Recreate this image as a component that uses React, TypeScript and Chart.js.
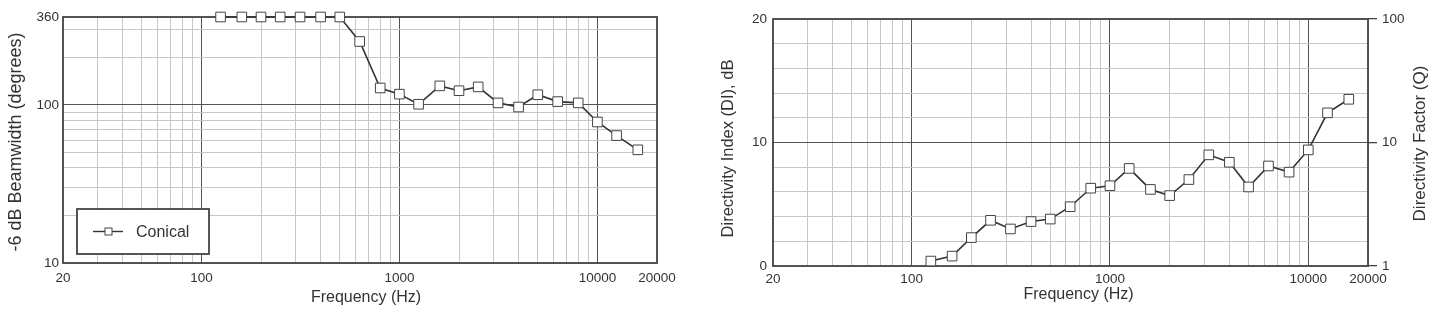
import React, { useEffect, useRef } from "react";
import { Chart, registerables } from "chart.js";

Chart.register(...registerables);

// ---- Data ----
const frequencies = [125, 160, 200, 250, 315, 400, 500, 630, 800, 1000, 1250, 1600, 2000, 2500, 3150, 4000, 5000, 6300, 8000, 10000, 12500, 16000];
const beamwidthConical = [360, 360, 360, 360, 360, 360, 360, 252, 128, 117, 101, 132, 123, 130, 103, 97, 116, 105, 103, 78, 64, 52];
const directivityIndex = [0.4, 0.8, 2.3, 3.7, 3.0, 3.6, 3.8, 4.8, 6.3, 6.5, 7.9, 6.2, 5.7, 7.0, 9.0, 8.4, 6.4, 8.1, 7.6, 9.4, 12.4, 13.5];

const freqTickLabels = [20, 100, 1000, 10000, 20000];
const freqMajor = [100, 1000, 10000];
const beamTickLabels = [10, 100, 360];
const beamMajor = [100];
const diTickLabels = [0, 10, 20];
const diMajor = [10];
const qTickLabels = [1, 10, 100];

const seriesLabel = "Conical";

// ---- Style ----
const FONT = "'Liberation Sans', Arial, Helvetica, sans-serif";
const TEXT = "#333";
const MINOR = "#c6c6c6";
const MAJOR = "#555";
const FRAME = "#444";

function logTicks(min: number, max: number) {
  const t: number[] = [];
  for (let d = 1; d <= 100000; d *= 10) {
    for (let m = 1; m < 10; m++) {
      const v = m * d;
      if (v >= min && v <= max) t.push(v);
    }
  }
  if (!t.includes(max)) t.push(max);
  return t;
}

const framePlugin = {
  id: "frame",
  beforeDatasetsDraw(chart: any) {
    const { ctx, chartArea: a } = chart;
    ctx.save();
    ctx.strokeStyle = FRAME;
    ctx.lineWidth = 1.8;
    ctx.strokeRect(a.left, a.top, a.right - a.left, a.bottom - a.top);
    ctx.restore();
  },
};

const titlesPlugin = {
  id: "titles",
  afterDraw(chart: any, _args: any, opts: any) {
    const { ctx, chartArea: a } = chart;
    ctx.save();
    ctx.fillStyle = TEXT;
    ctx.textAlign = "center";
    ctx.textBaseline = "middle";
    (opts.items || []).forEach((it: any) => {
      ctx.font = `${it.size}px ${FONT}`;
      let x = it.x;
      let y = it.y;
      if (it.kind === "x") {
        x = (a.left + a.right) / 2 + (it.dx || 0);
      } else {
        y = (a.top + a.bottom) / 2 + (it.dy || 0);
      }
      ctx.save();
      ctx.translate(x, y);
      if (it.kind !== "x") ctx.rotate(-Math.PI / 2);
      ctx.fillText(it.text, 0, 0);
      ctx.restore();
    });
    ctx.restore();
  },
};

const legendBoxPlugin = {
  id: "legendBox",
  afterDraw(chart: any, _args: any, opts: any) {
    if (!opts.show) return;
    const { ctx, chartArea: a } = chart;
    const ds = chart.data.datasets[0];
    const x = a.left + 14;
    const y = a.bottom - 54;
    const w = 132;
    const h = 45;
    ctx.save();
    ctx.fillStyle = "#fff";
    ctx.fillRect(x, y, w, h);
    ctx.strokeStyle = FRAME;
    ctx.lineWidth = 1.8;
    ctx.strokeRect(x, y, w, h);
    const cy = y + h / 2;
    ctx.strokeStyle = ds.borderColor;
    ctx.lineWidth = 1.4;
    ctx.beginPath();
    ctx.moveTo(x + 16, cy);
    ctx.lineTo(x + 46, cy);
    ctx.stroke();
    ctx.fillStyle = "#fff";
    ctx.fillRect(x + 28, cy - 3.5, 7, 7);
    ctx.strokeStyle = ds.pointBorderColor;
    ctx.lineWidth = 1;
    ctx.strokeRect(x + 28, cy - 3.5, 7, 7);
    ctx.fillStyle = TEXT;
    ctx.font = `16px ${FONT}`;
    ctx.textAlign = "left";
    ctx.textBaseline = "middle";
    ctx.fillText(ds.label, x + 59, cy + 1);
    ctx.restore();
  },
};

const lineDataset = (label: string, ys: number[]) => ({
  label,
  data: frequencies.map((f, i) => ({ x: f, y: ys[i] })),
  borderColor: "#333",
  borderWidth: 1.6,
  pointStyle: "rect",
  pointRadius: 6.8,
  pointBackgroundColor: "#fff",
  pointBorderColor: "#444",
  pointBorderWidth: 1,
  tension: 0,
  clip: false,
});

const tickFont = { family: FONT, size: 13.5 };

function freqAxis(padding: number, height: number) {
  return {
    type: "logarithmic",
    min: 20,
    max: 20000,
    afterBuildTicks: (s: any) => {
      s.ticks = logTicks(20, 20000).map((v) => ({ value: v }));
    },
    afterFit: (s: any) => {
      s.height = height;
    },
    ticks: {
      autoSkip: false,
      maxRotation: 0,
      minRotation: 0,
      padding,
      color: TEXT,
      font: tickFont,
      callback: (v: any) => (freqTickLabels.includes(Number(v)) ? String(v) : ""),
    },
    grid: {
      drawTicks: false,
      color: (c: any) => (freqMajor.includes(c.tick?.value) ? MAJOR : MINOR),
      lineWidth: 1,
    },
    border: { display: false },
  };
}

function BeamwidthChart() {
  const ref = useRef<HTMLCanvasElement>(null);
  useEffect(() => {
    const chart = new Chart(ref.current as HTMLCanvasElement, {
      type: "line",
      data: { datasets: [lineDataset(seriesLabel, beamwidthConical)] as any },
      plugins: [framePlugin, titlesPlugin, legendBoxPlugin],
      options: {
        responsive: false,
        animation: false,
        layout: { padding: { top: 17, right: 43, left: 0, bottom: 0 } },
        scales: {
          x: freqAxis(7, 53) as any,
          y: {
            type: "logarithmic",
            min: 10,
            max: 360,
            afterBuildTicks: (s: any) => {
              s.ticks = logTicks(10, 360).map((v) => ({ value: v }));
            },
            afterFit: (s: any) => {
              s.width = 63;
            },
            ticks: {
              autoSkip: false,
              padding: 4,
              color: TEXT,
              font: tickFont,
              callback: (v: any) => (beamTickLabels.includes(Number(v)) ? String(v) : ""),
            },
            grid: {
              drawTicks: false,
              color: (c: any) => (beamMajor.includes(c.tick?.value) ? MAJOR : MINOR),
              lineWidth: 1,
            },
            border: { display: false },
          } as any,
        },
        plugins: {
          legend: { display: false },
          tooltip: { enabled: false },
          titles: {
            items: [
              { kind: "x", text: "Frequency (Hz)", size: 16, dx: 6, y: 298 },
              { kind: "y", text: "-6 dB Beamwidth (degrees)", size: 18, x: 16.5, dy: 2 },
            ],
          },
          legendBox: { show: true },
        } as any,
      },
    });
    return () => chart.destroy();
  }, []);
  return <canvas ref={ref} width={700} height={316} style={{ position: "absolute", left: 0, top: 0, width: 700, height: 316 }} />;
}

function DirectivityChart() {
  const ref = useRef<HTMLCanvasElement>(null);
  useEffect(() => {
    const chart = new Chart(ref.current as HTMLCanvasElement, {
      type: "line",
      data: { datasets: [{ ...lineDataset("Directivity Index", directivityIndex), yAxisID: "y" }] as any },
      plugins: [framePlugin, titlesPlugin],
      options: {
        responsive: false,
        animation: false,
        layout: { padding: { top: 19, right: 0, left: 0, bottom: 0 } },
        scales: {
          x: freqAxis(5, 50) as any,
          y: {
            type: "linear",
            position: "left",
            min: 0,
            max: 20,
            afterBuildTicks: (s: any) => {
              const t: any[] = [];
              for (let v = 0; v <= 20; v += 2) t.push({ value: v });
              s.ticks = t;
            },
            afterFit: (s: any) => {
              s.width = 73;
            },
            ticks: {
              autoSkip: false,
              padding: 6,
              color: TEXT,
              font: tickFont,
              callback: (v: any) => (diTickLabels.includes(Number(v)) ? String(v) : ""),
            },
            grid: {
              drawTicks: false,
              color: (c: any) => (diMajor.includes(c.tick?.value) ? MAJOR : MINOR),
              lineWidth: 1,
            },
            border: { display: false },
          } as any,
          q: {
            type: "logarithmic",
            position: "right",
            min: 1,
            max: 100,
            afterBuildTicks: (s: any) => {
              s.ticks = qTickLabels.map((v) => ({ value: v }));
            },
            afterFit: (s: any) => {
              s.width = 61;
            },
            ticks: {
              autoSkip: false,
              padding: 5,
              color: TEXT,
              font: tickFont,
              callback: (v: any) => String(v),
            },
            grid: {
              drawOnChartArea: false,
              drawTicks: true,
              tickLength: 9,
              color: FRAME,
              lineWidth: 1.3,
            },
            border: { display: false },
          } as any,
        },
        plugins: {
          legend: { display: false },
          tooltip: { enabled: false },
          titles: {
            items: [
              { kind: "x", text: "Frequency (Hz)", size: 16, dx: 8, y: 295 },
              { kind: "y", text: "Directivity Index (DI), dB", size: 16.5, x: 28.5, dy: 6 },
              { kind: "y", text: "Directivity Factor (Q)", size: 17, x: 720, dy: 1 },
            ],
          },
        } as any,
      },
    });
    return () => chart.destroy();
  }, []);
  return <canvas ref={ref} width={729} height={316} style={{ position: "absolute", left: 700, top: 0, width: 729, height: 316 }} />;
}

export default function App() {
  return (
    <div style={{ position: "fixed", left: 0, top: 0, width: 1429, height: 316, background: "#fff", overflow: "hidden" }}>
      <BeamwidthChart />
      <DirectivityChart />
    </div>
  );
}
